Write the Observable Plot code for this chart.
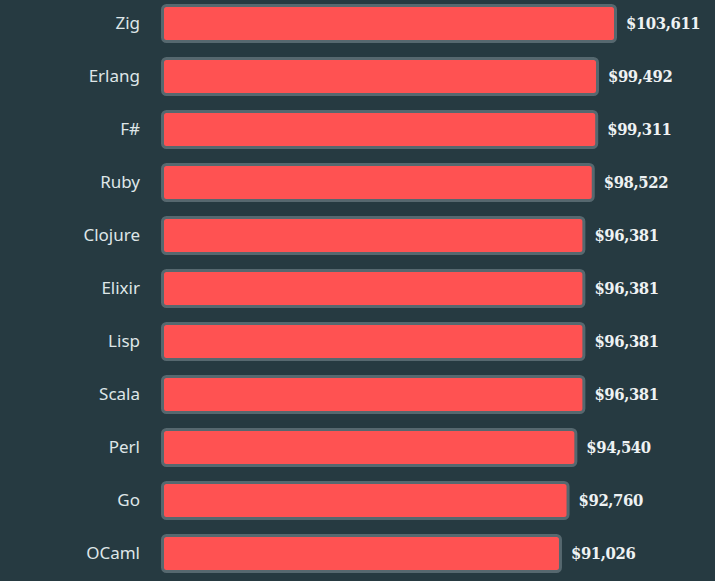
<!DOCTYPE html>
<html>
<head>
<meta charset="utf-8">
<script src="https://cdn.jsdelivr.net/npm/d3@7"></script>
<script src="https://cdn.jsdelivr.net/npm/@observablehq/plot@0.6"></script>
<style>
  html, body { margin: 0; padding: 0; background: #263a41; }
  #chart { width: 715px; height: 581px; overflow: hidden; }
  svg { display: block; }
</style>
</head>
<body>
<div id="chart"></div>
<script>
const languages = ["Zig", "Erlang", "F#", "Ruby", "Clojure", "Elixir", "Lisp", "Scala", "Perl", "Go", "OCaml"];
const salaries = [103611, 99492, 99311, 98522, 96381, 96381, 96381, 96381, 94540, 92760, 91026];

const data = languages.map((lang, i) => ({lang, salary: salaries[i]}));
const fmt = d3.format("$,");

const chart = Plot.plot({
  width: 715,
  height: 581,
  marginLeft: 162.5,
  marginRight: 99.5,
  marginTop: 5.5,
  marginBottom: 9.5,
  style: {background: "#263a41", overflow: "visible"},
  x: {domain: [0, 103611], axis: null},
  y: {domain: languages, paddingInner: 0.32, paddingOuter: 0, round: false, label: null, tickSize: 0, tickPadding: 23},
  marks: [
    Plot.axisY({
      tickSize: 0, tickPadding: 23, label: null,
      fill: "#dfe6e8", fontSize: 17, fontFamily: "'Noto Sans', sans-serif"
    }),
    Plot.barX(data, {
      x: "salary", y: "lang",
      fill: "#ff5252", stroke: "#56686f", strokeWidth: 3, rx: 4
    }),
    Plot.text(data, {
      x: "salary", y: "lang", text: d => fmt(d.salary),
      textAnchor: "start", dx: 10, fill: "#eef2f3",
      fontSize: 16.5, fontWeight: "bold", fontFamily: "'DejaVu Serif Condensed', 'DejaVu Serif', serif",
      style: {letterSpacing: "-0.4px"}
    })
  ]
});
chart.querySelectorAll("g[aria-label='text'] text").forEach(t => t.style.letterSpacing = "-0.4px");
document.getElementById("chart").appendChild(chart);
</script>
</body>
</html>
